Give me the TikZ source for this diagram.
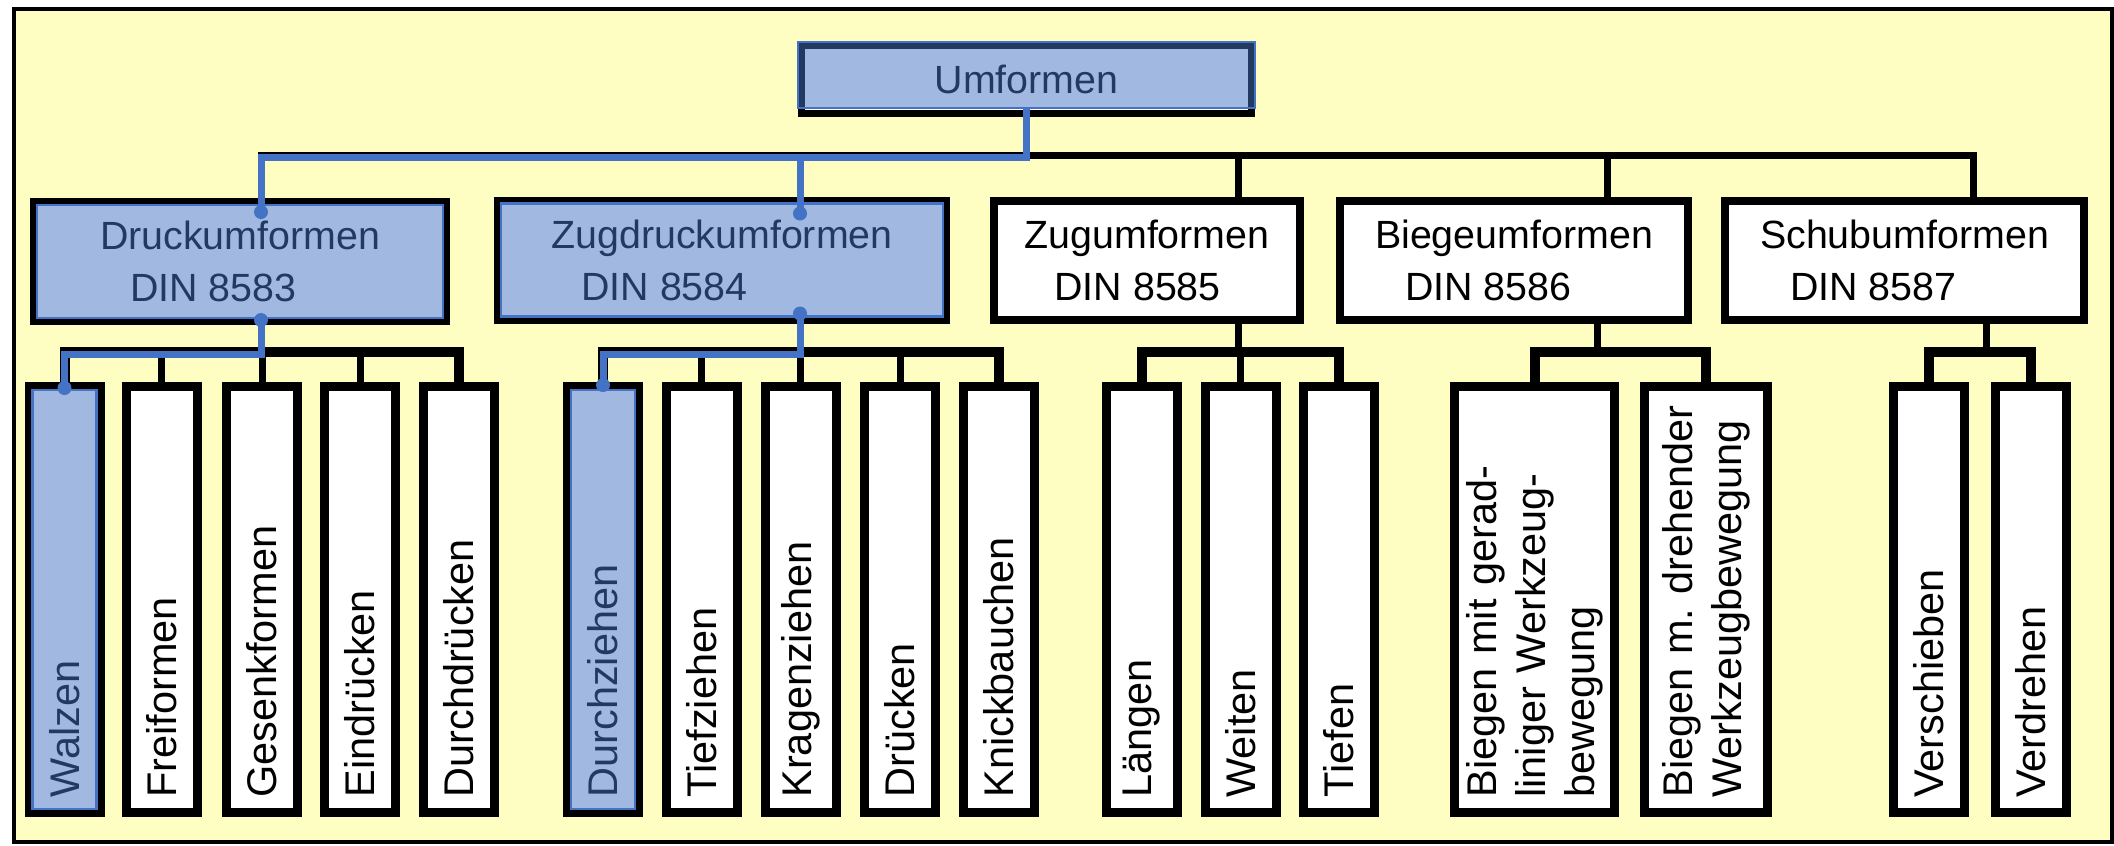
\documentclass[tikz,border=0pt]{standalone}
\usepackage{fontspec}
\setmainfont{Liberation Sans}
\usetikzlibrary{fit}

\definecolor{paper}{HTML}{FFFEC2}
\definecolor{hlblue}{HTML}{4472C4}

\begin{document}
\begin{tikzpicture}[x=0.1mm, y=-0.1mm,
    cat/.style = {draw, line width=0.8mm, fill=white, minimum height=11.9mm,
      inner sep=0pt, align=left, font=\fontsize{11.2}{14.8}\selectfont},
    leaf/.style = {draw, line width=0.9mm, fill=white, rotate=90,
      minimum height=7.1mm, text width=39.6mm, inner xsep=1.5mm,
      inner ysep=0pt, align=left, font=\fontsize{11.8}{13.9}\selectfont},
    bus/.style = {line width=1mm},
    stub/.style = {line width=0.7mm},
    cover/.style = {draw=hlblue, line width=0.25mm, fill=hlblue, fill opacity=0.5},
    hl/.style = {draw=hlblue, line width=0.7mm},
    pin/.style = {circle, fill=hlblue, inner sep=0pt, minimum size=1.4mm}]
    \useasboundingbox (0,0) rectangle (2114,845);
    \draw [line width=0.4mm, fill=paper] (14,9) rectangle (2112,842);

    % main groups
    \node (umf) [cat, line width=0.7mm, minimum width=45mm, minimum height=6.8mm] at (1026.5,79.5) {Umformen};
    \node (druck) [cat, minimum width=41.2mm] at (240,261.5) {Druckumformen\\\hspace*{3mm}DIN 8583};
    \node (zugdruck) [cat, minimum width=44.8mm] at (722,260) {Zugdruckumformen\\\hspace*{3mm}DIN 8584};
    \node (zug) [cat, minimum width=30.6mm] at (1147,260) {Zugumformen\\\hspace*{3mm}DIN 8585};
    \node (biege) [cat, minimum width=34.8mm] at (1514,260) {Biegeumformen\\\hspace*{3mm}DIN 8586};
    \node (schub) [cat, minimum width=35.9mm] at (1904.5,260) {Schubumformen\\\hspace*{3mm}DIN 8587};

    % processes (rotated: .east is the top)
    \node (walzen) [leaf] at (64.5,599.5) {Walzen};
    \node (frei) [leaf] at (161.5,599.5) {Freiformen};
    \node (gesenk) [leaf] at (262,599.5) {Gesenkformen};
    \node (eind) [leaf] at (360,599.5) {Eindrücken};
    \node (durchd) [leaf] at (459,599.5) {Durchdrücken};

    \node (durchz) [leaf] at (603,599.5) {Durchziehen};
    \node (tiefz) [leaf] at (701.5,599.5) {Tiefziehen};
    \node (kragen) [leaf] at (800.5,599.5) {Kragenziehen};
    \node (druecken) [leaf] at (900,599.5) {Drücken};
    \node (knick) [leaf] at (998.5,599.5) {Knickbauchen};

    \node (laengen) [leaf] at (1142,599.5) {Längen};
    \node (weiten) [leaf] at (1240.5,599.5) {Weiten};
    \node (tiefen) [leaf] at (1339,599.5) {Tiefen};

    \node (biegeg) [leaf, minimum height=16mm] at (1534.5,599.5) {Biegen mit gerad-\\liniger Werkzeug-\\bewegung};
    \node (biegedr) [leaf, minimum height=12.3mm] at (1706,599.5) {\mbox{Biegen m.\ drehender}\\Werkzeugbewegung};

    \node (versch) [leaf] at (1929,599.5) {Verschieben};
    \node (verdr) [leaf] at (2031,599.5) {Verdrehen};

    \coordinate (b0) at (0,155);
    \coordinate (b1) at (0,352);
    \coordinate (h0) at (0,157);
    \coordinate (h1) at (0,354);

    % black tree
    \draw [stub] (umf.south) -- (umf.south |- b0);
    \draw [stub] ([xshift=2.1mm]druck.north) |- ([xshift=6.85mm]schub.north |- b0) -- ([xshift=6.85mm]schub.north);
    \draw [stub] ([xshift=7.8mm]zugdruck.north) -- ([xshift=7.8mm]zugdruck.north |- b0)
                 ([xshift=9.1mm]zug.north) -- ([xshift=9.1mm]zug.north |- b0)
                 ([xshift=9.3mm]biege.north) -- ([xshift=9.3mm]biege.north |- b0);

    \draw [bus] (walzen.east) |- (durchd.east |- b1) -- (durchd.east);
    \draw [stub] (frei.east) -- (frei.east |- b1)
                 (gesenk.east) -- (gesenk.east |- b1)
                 (eind.east) -- (eind.east |- b1)
                 ([xshift=2.1mm]druck.south) -- ([xshift=2.1mm]druck.south |- b1);

    \draw [bus] (durchz.east) |- (knick.east |- b1) -- (knick.east);
    \draw [stub] (tiefz.east) -- (tiefz.east |- b1)
                 (kragen.east) -- (kragen.east |- b1)
                 (druecken.east) -- (druecken.east |- b1)
                 ([xshift=7.8mm]zugdruck.south) -- ([xshift=7.8mm]zugdruck.south |- b1);

    \draw [bus] (laengen.east) |- (tiefen.east |- b1) -- (tiefen.east);
    \draw [stub] (weiten.east) -- (weiten.east |- b1)
                 ([xshift=9.1mm]zug.south) -- ([xshift=9.1mm]zug.south |- b1);

    \draw [bus] (biegeg.east) |- (biegedr.east |- b1) -- (biegedr.east);
    \draw [stub] ([xshift=8.3mm]biege.south) -- ([xshift=8.3mm]biege.south |- b1);

    \draw [bus] (versch.east) |- (verdr.east |- b1) -- (verdr.east);
    \draw [stub] ([xshift=8.15mm]schub.south) -- ([xshift=8.15mm]schub.south |- b1);

    % highlighted path
    \draw [cover] (umf.north west) rectangle ([yshift=0.9mm]umf.south east);
    \node (druckhl) [cover, fit=(druck), inner sep=-0.7mm] {};
    \node (zugdruckhl) [cover, fit=(zugdruck), inner sep=-0.7mm] {};
    \node (walzenhl) [cover, fit=(walzen), inner sep=-0.8mm] {};
    \node (durchzhl) [cover, fit=(durchz), inner sep=-0.8mm] {};

    \node (p1) [pin] at ([xshift=2.1mm, yshift=-1.4mm]druck.north) {};
    \node (p2) [pin] at ([xshift=7.8mm, yshift=-1.7mm]zugdruck.north) {};
    \node (p3) [pin] at ([xshift=2.1mm, yshift=0.5mm]druck.south) {};
    \node (p4) [pin] at ([xshift=7.8mm, yshift=1mm]zugdruck.south) {};
    \node (p5) [pin] at ([yshift=-0.6mm]walzen.east) {};
    \node (p6) [pin] at ([yshift=-0.3mm]durchz.east) {};

    \draw [hl] ([yshift=0.9mm]umf.south) |- (p1.center |- h0) -- (p1.center);
    \draw [hl] (p2.center |- h0) -- (p2.center);
    \draw [hl] (p3.center) |- (p5.center |- h1) -- (p5.center);
    \draw [hl] (p4.center) |- (p6.center |- h1) -- (p6.center);
\end{tikzpicture}
\end{document}
